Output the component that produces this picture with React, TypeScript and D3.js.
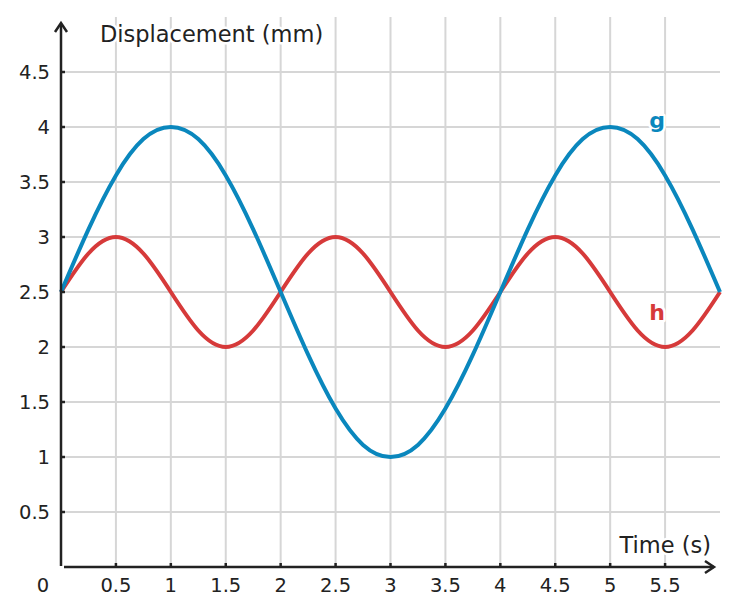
import * as d3 from 'd3';

const times = [0, 0.25, 0.5, 0.75, 1, 1.25, 1.5, 1.75, 2, 2.25, 2.5, 2.75, 3, 3.25, 3.5, 3.75, 4, 4.25, 4.5, 4.75, 5, 5.25, 5.5, 5.75, 6];
const gValues = [2.5, 3.07, 3.56, 3.89, 4, 3.89, 3.56, 3.07, 2.5, 1.93, 1.44, 1.11, 1, 1.11, 1.44, 1.93, 2.5, 3.07, 3.56, 3.89, 4, 3.89, 3.56, 3.07, 2.5];
const hValues = [2.5, 2.85, 3, 2.85, 2.5, 2.15, 2, 2.15, 2.5, 2.85, 3, 2.85, 2.5, 2.15, 2, 2.15, 2.5, 2.85, 3, 2.85, 2.5, 2.15, 2, 2.15, 2.5];
const xTicks = [0.5, 1, 1.5, 2, 2.5, 3, 3.5, 4, 4.5, 5, 5.5];
const yTicks = [0.5, 1, 1.5, 2, 2.5, 3, 3.5, 4, 4.5];

const App = () => {
  const width = 737;
  const height = 615;
  const x = d3.scaleLinear().domain([0, 6]).range([61, 720]);
  const y = d3.scaleLinear().domain([0, 5]).range([567, 17]);

  const line = d3
    .line<number>()
    .x((_, i) => x(times[i]))
    .y((d) => y(d))
    .curve(d3.curveNatural);

  const axisColor = '#222';
  const gridColor = '#d6d6d6';
  const font = '"DejaVu Sans", sans-serif';
  const halo = { paintOrder: 'stroke' as const, stroke: '#fff', strokeWidth: 5, strokeLinejoin: 'round' as const };

  return (
    <svg width={width} height={height} style={{ position: 'absolute', left: 0, top: 0 }} fontFamily={font}>
      <rect width={width} height={height} fill="#fff" />
      {yTicks.map((t) => (
        <line key={'hg' + t} x1={x(0)} x2={x(6)} y1={y(t)} y2={y(t)} stroke={gridColor} strokeWidth={2} />
      ))}
      {xTicks.map((t) => (
        <line key={'vg' + t} x1={x(t)} x2={x(t)} y1={y(5)} y2={y(0)} stroke={gridColor} strokeWidth={2} />
      ))}

      <path d={line(hValues) ?? ''} fill="none" stroke="#d63a3a" strokeWidth={4} />
      <path d={line(gValues) ?? ''} fill="none" stroke="#0a87bd" strokeWidth={4} />

      {/* axes */}
      <line x1={x(0)} x2={x(0)} y1={24} y2={566} stroke={axisColor} strokeWidth={2.5} />
      <path d={`M ${x(0) - 6} 32 L ${x(0)} 23 L ${x(0) + 6} 32`} fill="none" stroke={axisColor} strokeWidth={2.5} />
      <line x1={x(0) + 3} x2={714} y1={y(0)} y2={y(0)} stroke={axisColor} strokeWidth={2.5} />
      <path d={`M 705 561 L 714 567 L 705 573`} fill="none" stroke={axisColor} strokeWidth={2.5} />

      {yTicks.map((t) => (
        <g key={'yt' + t}>
          <line x1={x(0)} x2={x(0) + 4} y1={y(t)} y2={y(t)} stroke={axisColor} strokeWidth={2.5} />
          <text x={50} y={y(t)} dy="0.36em" textAnchor="end" fontSize={19.5} fill="#222">
            {t}
          </text>
        </g>
      ))}
      {xTicks.map((t) => (
        <g key={'xt' + t}>
          <line x1={x(t)} x2={x(t)} y1={y(0) - 4} y2={y(0)} stroke={axisColor} strokeWidth={2.5} />
          <text x={x(t)} y={592} textAnchor="middle" fontSize={19.5} fill="#222">
            {t}
          </text>
        </g>
      ))}
      <text x={43} y={592} textAnchor="middle" fontSize={19.5} fill="#222">
        0
      </text>

      <text x={100} y={42} fontSize={22.5} fill="#222" style={halo}>
        Displacement (mm)
      </text>
      <text x={711} y={553} textAnchor="end" fontSize={22.5} fill="#222" style={halo}>
        Time (s)
      </text>
      <text x={657} y={128} textAnchor="middle" fontSize={22} fontWeight="bold" fill="#0a87bd" style={halo}>
        g
      </text>
      <text x={657} y={320} textAnchor="middle" fontSize={22} fontWeight="bold" fill="#d63a3a" style={halo}>
        h
      </text>
    </svg>
  );
};

export default App;
